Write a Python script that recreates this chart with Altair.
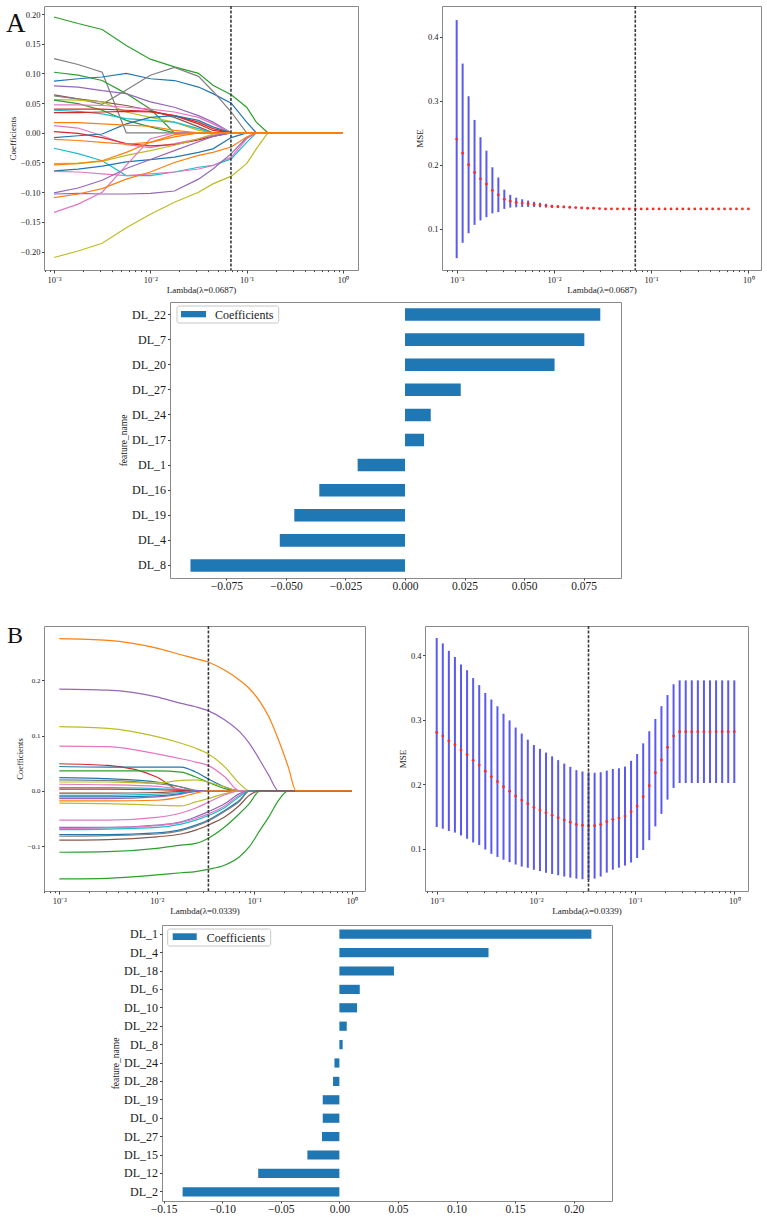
import numpy as np
import pandas as pd
import altair as alt

SERIF = "Liberation Serif"
TAB = {
    "blue": "#1f77b4", "orange": "#ff7f0e", "green": "#2ca02c", "red": "#d62728",
    "purple": "#9467bd", "brown": "#8c564b", "pink": "#e377c2", "gray": "#7f7f7f",
    "olive": "#bcbd22", "cyan": "#17becf",
}

# ---------------- A: coefficient paths (log10 lambda grid) ----------------
path_a_log = [-3, -2.75, -2.5, -2.25, -2, -1.75, -1.5, -1.35, -1.16, -1, -0.9, -0.78, 0]
a01 = [0.195, 0.184, 0.174, 0.147, 0.124, 0.111, 0.100, 0.080, 0.064, 0.043, 0.018, 0, 0]
a02 = [0.125, 0.115, 0.102, 0, 0, 0, 0, 0, 0, 0, 0, 0, 0]
a03 = [0.102, 0.097, 0.088, 0.066, 0.040, 0, 0, 0, 0, 0, 0, 0, 0]
a04 = [0.087, 0.091, 0.094, 0.100, 0.091, 0.088, 0.077, 0.066, 0.050, 0.018, 0, 0, 0]
a05 = [0.079, 0.077, 0.071, 0.066, 0.052, 0.043, 0.029, 0.018, 0, 0, 0, 0, 0]
a06 = [0.064, 0.057, 0.052, 0.046, 0.038, 0.026, 0.010, 0, 0, 0, 0, 0, 0]
a07 = [0.062, 0.057, 0.048, 0.072, 0.097, 0.110, 0.095, 0.070, 0.035, 0, 0, 0, 0]
a08 = [0.056, 0.055, 0.052, 0.035, 0.026, 0.018, 0.004, 0, 0, 0, 0, 0, 0]
a09 = [0.055, 0.049, 0.038, 0.021, 0.010, 0, 0, 0, 0, 0, 0, 0, 0]
a10 = [0.047, 0.047, 0.046, 0.043, 0.040, 0.035, 0.026, 0.015, 0, 0, 0, 0, 0]
a11 = [0.040, 0.040, 0.040, 0.038, 0.036, 0.029, 0.018, 0.007, 0, 0, 0, 0, 0]
a12 = [0.038, 0.036, 0.032, 0.024, 0.021, 0.018, 0.007, 0, 0, 0, 0, 0, 0]
a13 = [0.034, 0.034, 0.035, 0.036, 0.035, 0.029, 0.015, 0.004, 0, 0, 0, 0, 0]
a14 = [0.012, 0.008, -0.005, -0.020, -0.025, -0.018, -0.010, -0.004, 0, 0, 0, 0, 0]
a15 = [0.002, -0.001, -0.008, -0.018, -0.022, -0.020, -0.012, -0.006, 0, 0, 0, 0, 0]
a16 = [-0.008, -0.005, -0.002, 0.015, 0.026, 0.029, 0.021, 0.010, 0, 0, 0, 0, 0]
a17 = [-0.026, -0.035, -0.047, -0.072, -0.072, -0.066, -0.058, -0.055, -0.044, -0.016, 0, 0, 0]
a18 = [-0.052, -0.051, -0.048, -0.038, -0.030, -0.021, -0.010, -0.002, 0, 0, 0, 0, 0]
a19 = [-0.064, -0.061, -0.056, -0.049, -0.045, -0.041, -0.033, -0.027, -0.008, 0, 0, 0, 0]
a20 = [-0.065, -0.066, -0.069, -0.072, -0.069, -0.066, -0.061, -0.055, -0.041, -0.010, 0, 0, 0]
a21 = [-0.101, -0.093, -0.080, -0.060, -0.045, -0.030, -0.015, -0.006, 0, 0, 0, 0, 0]
a22 = [-0.103, -0.102, -0.103, -0.103, -0.102, -0.098, -0.078, -0.061, -0.035, -0.008, 0, 0, 0]
a23 = [-0.134, -0.120, -0.100, -0.055, -0.010, 0, 0, 0, 0, 0, 0, 0, 0]
a24 = [-0.210, -0.199, -0.186, -0.160, -0.137, -0.117, -0.100, -0.086, -0.073, -0.052, -0.027, 0, 0]
a25 = [-0.011, -0.013, -0.016, -0.019, -0.016, -0.007, 0, 0, 0, 0, 0, 0, 0]
a26 = [-0.054, -0.052, -0.047, -0.033, -0.016, -0.003, 0, 0, 0, 0, 0, 0, 0]
a27 = [-0.109, -0.103, -0.094, -0.078, -0.066, -0.050, -0.038, -0.033, -0.024, -0.007, 0, 0, 0]
a28 = [0.017, 0.017, 0.015, 0.013, 0.011, 0.004, 0, 0, 0, 0, 0, 0, 0]
paths_a = [a01, a02, a03, a04, a05, a06, a07, a08, a09, a10, a11, a12, a13, a14,
           a15, a16, a17, a18, a19, a20, a21, a22, a23, a24, a25, a26, a27, a28]
colors_a = ["green", "gray", "green", "blue", "purple", "brown", "gray", "olive", "green",
            "pink", "red", "cyan", "red", "pink", "red", "blue", "cyan", "olive", "blue",
            "pink", "purple", "purple", "pink", "olive", "orange", "orange", "orange", "orange"]
lambda_a = 0.0687

# ---------------- B: coefficient paths ----------------
path_b_log = [-3, -2.5, -2, -1.75, -1.6, -1.475, -1.3, -1.15, -1.05, -0.94, -0.85, -0.75, -0.65, -0.57, 0]
b01 = [-0.159, -0.158, -0.152, -0.148, -0.146, -0.142, -0.134, -0.119, -0.101, -0.071, -0.047, -0.017, 0, 0, 0]
b02 = [-0.111, -0.110, -0.104, -0.098, -0.095, -0.086, -0.065, -0.041, -0.023, 0, 0, 0, 0, 0, 0]
b03 = [0.184, 0.182, 0.170, 0.158, 0.152, 0.145, 0.128, 0.107, 0.086, 0.055, 0.028, 0, 0, 0, 0]
b04 = [0.116, 0.113, 0.098, 0.086, 0.077, 0.067, 0.043, 0.013, 0, 0, 0, 0, 0, 0, 0]
b05 = [0.081, 0.080, 0.067, 0.058, 0.052, 0.046, 0.025, 0, 0, 0, 0, 0, 0, 0, 0]
b06 = [0.049, 0.046, 0.025, 0.001, 0, 0, 0, 0, 0, 0, 0, 0, 0, 0, 0]
b07 = [0.044, 0.043, 0.043, 0.043, 0.034, 0.022, 0.007, 0, 0, 0, 0, 0, 0, 0, 0]
b08 = [0.036, 0.036, 0.036, 0.034, 0.025, 0.016, 0.004, 0, 0, 0, 0, 0, 0, 0, 0]
b09 = [0.024, 0.022, 0.016, 0.007, 0, 0, 0, 0, 0, 0, 0, 0, 0, 0, 0]
b10 = [0.020, 0.019, 0.013, 0.007, 0.001, 0, 0, 0, 0, 0, 0, 0, 0, 0, 0]
b11 = [0.016, 0.016, 0.014, 0.019, 0.020, 0.016, 0.007, 0, 0, 0, 0, 0, 0, 0, 0]
b12 = [0.012, 0.011, 0.008, 0.003, 0, 0, 0, 0, 0, 0, 0, 0, 0, 0, 0]
b13 = [0.006, 0.006, 0.004, 0.002, 0, 0, 0, 0, 0, 0, 0, 0, 0, 0, 0]
b14 = [0.003, 0.003, 0.002, 0.001, 0, 0, 0, 0, 0, 0, 0, 0, 0, 0, 0]
b15 = [-0.004, -0.004, -0.003, -0.001, 0, 0, 0, 0, 0, 0, 0, 0, 0, 0, 0]
b16 = [-0.008, -0.008, -0.006, -0.003, 0, 0, 0, 0, 0, 0, 0, 0, 0, 0, 0]
b17 = [-0.011, -0.011, -0.009, -0.005, -0.001, 0, 0, 0, 0, 0, 0, 0, 0, 0, 0]
b18 = [-0.014, -0.014, -0.011, -0.006, 0, 0, 0, 0, 0, 0, 0, 0, 0, 0, 0]
b19 = [-0.018, -0.018, -0.017, -0.011, -0.004, 0, 0, 0, 0, 0, 0, 0, 0, 0, 0]
b20 = [-0.022, -0.023, -0.026, -0.027, -0.020, -0.014, -0.005, 0, 0, 0, 0, 0, 0, 0, 0]
b21 = [-0.053, -0.053, -0.048, -0.040, -0.031, -0.021, -0.007, 0, 0, 0, 0, 0, 0, 0, 0]
b22 = [-0.066, -0.066, -0.062, -0.056, -0.047, -0.038, -0.023, -0.005, 0, 0, 0, 0, 0, 0, 0]
b23 = [-0.068, -0.067, -0.063, -0.057, -0.050, -0.042, -0.027, -0.008, 0, 0, 0, 0, 0, 0, 0]
b24 = [-0.070, -0.069, -0.066, -0.060, -0.053, -0.045, -0.030, -0.010, 0, 0, 0, 0, 0, 0, 0]
b25 = [-0.079, -0.079, -0.076, -0.070, -0.062, -0.053, -0.035, -0.017, 0, 0, 0, 0, 0, 0, 0]
b26 = [-0.082, -0.081, -0.078, -0.072, -0.064, -0.055, -0.037, -0.019, 0, 0, 0, 0, 0, 0, 0]
b27 = [-0.089, -0.088, -0.083, -0.078, -0.071, -0.062, -0.047, -0.026, -0.008, 0, 0, 0, 0, 0, 0]
b28 = [0.275, 0.272, 0.258, 0.246, 0.239, 0.233, 0.218, 0.200, 0.185, 0.161, 0.134, 0.092, 0.043, 0, 0]
paths_b = [b01, b02, b03, b04, b05, b06, b07, b08, b09, b10, b11, b12, b13, b14,
           b15, b16, b17, b18, b19, b20, b21, b22, b23, b24, b25, b26, b27, b28]
colors_b = ["green", "green", "purple", "olive", "pink", "red", "blue", "green", "blue",
            "gray", "olive", "pink", "cyan", "red", "brown", "cyan", "blue", "purple",
            "orange", "olive", "pink", "purple", "pink", "cyan", "blue", "gray", "brown", "orange"]
lambda_b = 0.0339

# ---------------- cross-validated MSE (50 lambdas, 1e-3 .. 1) ----------------
cv_lambdas = np.logspace(-3, 0, 50)
mse_a_mean = [0.240, 0.218, 0.200, 0.188, 0.178, 0.170, 0.160, 0.153, 0.146, 0.143,
              0.141, 0.140, 0.139, 0.138, 0.137, 0.136, 0.135, 0.1345, 0.134, 0.1335,
              0.133, 0.1325, 0.132, 0.132, 0.1315, 0.131, 0.131, 0.131, 0.131, 0.131,
              0.131, 0.131, 0.131, 0.131, 0.131, 0.131, 0.131, 0.131, 0.131, 0.131,
              0.131, 0.131, 0.131, 0.131, 0.131, 0.131, 0.131, 0.131, 0.131, 0.131]
mse_a_err = [0.186, 0.140, 0.107, 0.082, 0.065, 0.052, 0.036, 0.027, 0.015, 0.010,
             0.0075, 0.006, 0.005, 0.004, 0.0035, 0.003, 0.0025, 0.002, 0.0018, 0.0015,
             0.0012, 0.001, 0.0008, 0.0006, 0.0004, 0.0003, 0.0003, 0.0003, 0.0003, 0.0003,
             0, 0, 0, 0, 0, 0, 0, 0, 0, 0,
             0, 0, 0, 0, 0, 0, 0, 0, 0, 0]
mse_b_mean = [0.280, 0.2745, 0.267, 0.261, 0.253, 0.246, 0.237, 0.2296, 0.220, 0.2116,
              0.204, 0.196, 0.189, 0.1816, 0.1754, 0.1697, 0.164, 0.160, 0.1558, 0.152,
              0.148, 0.1444, 0.141, 0.1377, 0.1362, 0.1352, 0.1357, 0.1377, 0.142, 0.1455,
              0.1476, 0.1506, 0.1574, 0.1661, 0.1806, 0.1976, 0.2178, 0.2374, 0.257, 0.2745,
              0.2813, 0.2813, 0.2813, 0.2813, 0.2813, 0.2813, 0.2813, 0.2813, 0.2813, 0.2813]
mse_b_err = [0.1464, 0.1435, 0.1395, 0.136, 0.1325, 0.1305, 0.1273, 0.1238, 0.1212, 0.1195,
             0.1167, 0.1131, 0.1098, 0.1061, 0.103, 0.0992, 0.0967, 0.0947, 0.0931, 0.0911,
             0.0892, 0.0875, 0.0858, 0.084, 0.0834, 0.0834, 0.082, 0.0808, 0.079, 0.078,
             0.077, 0.0767, 0.0788, 0.0805, 0.0826, 0.0844, 0.0832, 0.0834, 0.081, 0.0803,
             0.0795, 0.0795, 0.0795, 0.0795, 0.0795, 0.0795, 0.0795, 0.0795, 0.0795, 0.0795]

# ---------------- selected features ----------------
feat_a = ["DL_22", "DL_7", "DL_20", "DL_27", "DL_24", "DL_17", "DL_1", "DL_16", "DL_19", "DL_4", "DL_8"]
coef_a = [0.082, 0.0753, 0.0628, 0.0234, 0.0108, 0.008, -0.0199, -0.036, -0.0465, -0.0526, -0.0901]
feat_b = ["DL_1", "DL_4", "DL_18", "DL_6", "DL_10", "DL_22", "DL_8", "DL_24", "DL_28",
          "DL_19", "DL_0", "DL_27", "DL_15", "DL_12", "DL_2"]
coef_b = [0.2151, 0.1273, 0.0466, 0.0174, 0.0151, 0.0063, 0.0028, -0.0042, -0.0054,
          -0.0142, -0.0142, -0.0148, -0.0273, -0.0693, -0.1338]

# ---------------- helpers ----------------
E = "log(datum.value)/LN10"
IS_DECADE = f"abs({E}-round({E}))<0.001"
SUP_LABEL = (f"({IS_DECADE}) ? (round({E})==-3 ? '10⁻³' : round({E})==-2 ? '10⁻²' : "
             f"round({E})==-1 ? '10⁻¹' : '10⁰') : ''")
LOG_TICKS = [m * 10.0 ** k for k in (-4, -3, -2, -1, 0) for m in range(1, 10)]
TEXT = "#1a1a1a"


def log_x(domain_exp, title, label_size=8.5, title_size=9):
    lo, hi = 10 ** domain_exp[0], 10 ** domain_exp[1]
    vals = [v for v in LOG_TICKS if lo <= v <= hi]
    return alt.X("lam:Q",
                 scale=alt.Scale(type="log", domain=[lo, hi], nice=False),
                 axis=alt.Axis(values=vals, labelExpr=SUP_LABEL,
                               tickSize={"condition": {"test": IS_DECADE, "value": 3}, "value": 1.6},
                               title=title, labelFontSize=label_size, titleFontSize=title_size,
                               labelPadding=2, titlePadding=2, labelFlush=False, labelOverlap=False))


def letter(ch, x, y, size):
    return alt.Chart(pd.DataFrame({"t": [ch]})).mark_text(
        align="left", baseline="alphabetic", fontSize=size, font=SERIF, color="#111"
    ).encode(x=alt.value(x), y=alt.value(y), text="t:N")


def anchor(x):
    # invisible 1px block that fixes how far the panel reaches to the left
    return alt.Chart(pd.DataFrame({"v": [0]})).mark_rect(opacity=0).encode(
        x=alt.value(x), x2=alt.value(x + 1), y=alt.value(0), y2=alt.value(1))


def vline(lam):
    return alt.Chart(pd.DataFrame({"lam": [lam]})).mark_rule(
        color="#3a3a3a", strokeWidth=1.6, strokeDash=[3, 1.6]
    ).encode(x="lam:Q")


def path_panel(grid_log, paths, colors, lam, x_dom, y_dom, y_ticks, y_fmt, w, h,
               interp, extra_layers, tick_size, title_size):
    rows = []
    for i, (vals, col) in enumerate(zip(paths, colors)):
        for e, v in zip(grid_log, vals):
            rows.append({"id": i, "lam": 10.0 ** e, "coef": v, "col": TAB[col]})
    df = pd.DataFrame(rows)
    x = log_x(x_dom, f"Lambda(λ={lam})")
    y = alt.Y("coef:Q", scale=alt.Scale(domain=y_dom, nice=False, zero=False),
              axis=alt.Axis(values=y_ticks, format=y_fmt, title="Coefficients",
                            labelFontSize=tick_size, titleFontSize=title_size,
                            tickSize=2.5, labelPadding=1.5, titlePadding=3))
    lines = alt.Chart(df).mark_line(strokeWidth=1.2, interpolate=interp).encode(
        x=x, y=y, color=alt.Color("col:N", scale=None), detail="id:N")
    return alt.layer(lines, vline(lam), *extra_layers).properties(width=w, height=h)


def mse_panel(mean, err, lam, x_dom, y_dom, w, h, tick_size):
    df = pd.DataFrame({"lam": cv_lambdas, "mse": mean, "err": err})
    df["lo"] = df["mse"] - df["err"]
    df["hi"] = df["mse"] + df["err"]
    x = log_x(x_dom, f"Lambda(λ={lam})")
    y = alt.Y("mse:Q", scale=alt.Scale(domain=y_dom, nice=False, zero=False),
              axis=alt.Axis(values=[0.1, 0.2, 0.3, 0.4], format=".1f", title="MSE",
                            labelFontSize=tick_size, titleFontSize=9,
                            tickSize=2.5, labelPadding=1.5, titlePadding=2.5))
    bars = alt.Chart(df).mark_rule(color="#5a5af0", strokeWidth=2).encode(
        x=x, y=alt.Y("lo:Q"), y2="hi:Q")
    dots = alt.Chart(df).mark_circle(color="#ff2a2a", size=8, opacity=1).encode(x=x, y=y)
    return alt.layer(bars, dots, vline(lam)).properties(width=w, height=h)


def coef_bars(feats, coefs, x_dom, x_ticks, x_fmt, w, h, legend_box):
    df = pd.DataFrame({"feature": feats, "coef": coefs})
    bars = alt.Chart(df).mark_bar(color="#1f77b4").encode(
        y=alt.Y("feature:N", sort=feats,
                scale=alt.Scale(paddingInner=0.5, paddingOuter=0.25),
                axis=alt.Axis(title="feature_name", labelFontSize=12, titleFontSize=9.5,
                              tickSize=2.5, labelPadding=2, titlePadding=3)),
        x=alt.X("coef:Q", scale=alt.Scale(domain=x_dom, nice=False, zero=False),
                axis=alt.Axis(values=x_ticks, format=x_fmt, title=None, labelFontSize=11.5,
                              tickSize=2, labelPadding=0, labelFlush=False)),
        x2=alt.datum(0),
    )
    one = pd.DataFrame({"t": ["Coefficients"]})
    bx0, bx1, by0, by1, sx0, sx1, sy0, sy1, tx, ty = legend_box
    box = alt.Chart(one).mark_rect(fill="white", stroke="#c8c8c8", strokeWidth=1,
                                   cornerRadius=2).encode(
        x=alt.value(bx0), x2=alt.value(bx1), y=alt.value(by0), y2=alt.value(by1))
    swatch = alt.Chart(one).mark_rect(color="#1f77b4").encode(
        x=alt.value(sx0), x2=alt.value(sx1), y=alt.value(sy0), y2=alt.value(sy1))
    label = alt.Chart(one).mark_text(align="left", baseline="middle", fontSize=12,
                                     font=SERIF, color=TEXT).encode(
        x=alt.value(tx), y=alt.value(ty), text="t:N")
    return alt.layer(bars, box, swatch, label).properties(width=w, height=h)


def spacer(w, h):
    # an invisible block that only reserves room in the layout
    return alt.Chart(pd.DataFrame({"v": [0]})).mark_rect(opacity=0).encode(
        x=alt.value(0), x2=alt.value(w), y=alt.value(0), y2=alt.value(h)
    ).properties(width=w, height=h, view=alt.ViewBackground(strokeOpacity=0))


# ---------------- panels ----------------
A1 = path_panel(path_a_log, paths_a, colors_a, lambda_a, (-3.104, 0.156), [-0.231, 0.2135],
                [-0.2, -0.15, -0.1, -0.05, 0, 0.05, 0.1, 0.15, 0.2], ".2f", 314, 264,
                "linear", [letter("A", -38, 26, 27)], 8.5, 9)
A2 = mse_panel(mse_a_mean, mse_a_err, lambda_a, (-3.151, 0.13), [0.0355, 0.448], 319, 264, 8.5)
A3 = coef_bars(feat_a, coef_a, [-0.0987, 0.0907],
               [-0.075, -0.05, -0.025, 0, 0.025, 0.05, 0.075], ".3f", 451, 276,
               (7, 108.7, 4, 21, 11, 36, 9, 15.3, 45, 12.5))

B1 = path_panel(path_b_log, paths_b, colors_b, lambda_b, (-3.157, 0.137), [-0.181, 0.298],
                [-0.1, 0, 0.1, 0.2], ".1f", 321, 265,
                "monotone", [letter("B", -37, 17, 24), anchor(-43)], 7, 8.5)
B2 = mse_panel(mse_b_mean, mse_b_err, lambda_b, (-3.118, 0.138), [0.0345, 0.445], 323, 265, 8.5)
B3 = coef_bars(feat_b, coef_b, [-0.1514, 0.2327],
               [-0.15, -0.1, -0.05, 0, 0.05, 0.1, 0.15, 0.2], ".2f", 450, 276,
               (5.7, 108.7, 4, 21, 10.7, 34.7, 8.3, 15, 44.7, 12.5))

row_a = alt.hconcat(A1, A2, spacing=56)
row_a3 = alt.hconcat(spacer(74, 2), A3, spacing=0)
row_b = alt.hconcat(B1, B2, spacing=32)
row_b3 = alt.hconcat(spacer(66, 2), B3, spacing=0)

chart = alt.vconcat(
    row_a, spacer(2, 6), row_a3, spacer(2, 31), row_b, spacer(2, 8), row_b3, spacing=0
).properties(
    padding={"left": 0, "top": 4, "right": 0, "bottom": 0}, background="white"
).configure(font=SERIF).configure_view(
    stroke="#8a8a8a", strokeWidth=1
).configure_axis(
    domain=False, grid=False, tickColor="#444", labelColor=TEXT, titleColor=TEXT,
    labelFont=SERIF, titleFont=SERIF, titleFontWeight="normal"
)

chart.save("out.html", embed_options={"renderer": "svg", "actions": False})
